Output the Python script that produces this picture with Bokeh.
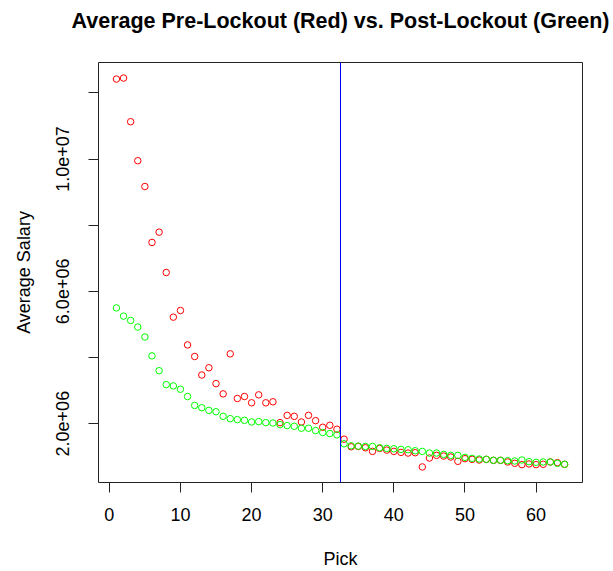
from bokeh.plotting import figure
from bokeh.models import Range1d, FixedTicker, Span, Title
from bokeh.embed import file_html
from bokeh.resources import INLINE

picks = list(range(1, 65))

pre_lockout = [
    12.42e6, 12.45e6, 11.13e6, 9.95e6, 9.17e6, 7.48e6, 7.79e6, 6.57e6, 5.22e6, 5.42e6,
    4.38e6, 4.03e6, 3.47e6, 3.69e6, 3.21e6, 2.90e6, 4.11e6, 2.76e6, 2.82e6, 2.63e6,
    2.87e6, 2.63e6, 2.66e6, 2.03e6, 2.25e6, 2.22e6, 2.05e6, 2.25e6, 2.09e6, 1.89e6,
    1.95e6, 1.83e6, 1.53e6, 1.30e6, 1.31e6, 1.27e6, 1.16e6, 1.25e6, 1.20e6, 1.16e6,
    1.13e6, 1.11e6, 1.12e6, 0.69e6, 0.96e6, 1.04e6, 1.02e6, 0.99e6, 0.86e6, 0.94e6,
    0.92e6, 0.90e6, 0.92e6, 0.89e6, 0.89e6, 0.84e6, 0.80e6, 0.76e6, 0.78e6, 0.76e6,
    0.77e6, 0.84e6, 0.82e6, 0.77e6,
]

post_lockout = [
    5.50e6, 5.25e6, 5.12e6, 4.92e6, 4.62e6, 4.05e6, 3.60e6, 3.18e6, 3.14e6, 3.04e6,
    2.82e6, 2.55e6, 2.48e6, 2.40e6, 2.36e6, 2.22e6, 2.15e6, 2.12e6, 2.10e6, 2.05e6,
    2.06e6, 2.03e6, 2.02e6, 1.97e6, 1.94e6, 1.92e6, 1.86e6, 1.86e6, 1.79e6, 1.73e6,
    1.70e6, 1.66e6, 1.39e6, 1.33e6, 1.32e6, 1.31e6, 1.31e6, 1.27e6, 1.25e6, 1.24e6,
    1.22e6, 1.21e6, 1.18e6, 1.16e6, 1.11e6, 1.11e6, 1.07e6, 1.04e6, 1.04e6, 0.98e6,
    0.95e6, 0.93e6, 0.92e6, 0.89e6, 0.89e6, 0.88e6, 0.87e6, 0.90e6, 0.85e6, 0.83e6,
    0.84e6, 0.84e6, 0.80e6, 0.77e6,
]

lockout_split = 32.5
title_text = "Average Pre-Lockout (Red) vs. Post-Lockout (Green)"

x_ticks = [0, 10, 20, 30, 40, 50, 60]
y_ticks = [2e6, 4e6, 6e6, 8e6, 10e6, 12e6]
y_tick_labels = ["2.0e+06", "", "6.0e+06", "", "1.0e+07", ""]

# R-style 4% range extension
xlo, xhi = min(picks), max(picks)
allv = pre_lockout + post_lockout
ylo, yhi = min(allv), max(allv)
xpad = 0.04 * (xhi - xlo)
ypad = 0.04 * (yhi - ylo)

FONT = "Liberation Sans"

p = figure(width=613, height=571, output_backend="svg", toolbar_location=None,
           x_range=Range1d(xlo - xpad, xhi + xpad),
           y_range=Range1d(ylo - ypad, yhi + ypad),
           min_border_left=98, min_border_right=31,
           min_border_top=62, min_border_bottom=88)

# spacer between frame and title, then the title itself
p.add_layout(Title(text=" ", text_font=FONT, text_font_size="21.5px",
                   standoff=4), "above")
p.add_layout(Title(text=title_text, align="center", text_font=FONT,
                   text_font_size="21.5px", text_font_style="bold",
                   text_color="black", standoff=0), "above")

p.grid.visible = False
p.outline_line_color = "#222222"
p.outline_line_width = 1
p.background_fill_color = "white"
p.border_fill_color = "white"

for ax in (p.xaxis[0], p.yaxis[0]):
    ax.axis_line_color = None
    ax.major_tick_line_color = "#222222"
    ax.major_tick_out = 10
    ax.major_tick_in = 0
    ax.minor_tick_line_color = None
    ax.major_label_text_font = FONT
    ax.major_label_text_font_size = "18px"
    ax.major_label_text_color = "black"
    ax.axis_label_text_font = FONT
    ax.axis_label_text_font_size = "18px"
    ax.axis_label_text_font_style = "normal"
    ax.axis_label_text_color = "black"

p.xaxis.ticker = FixedTicker(ticks=x_ticks)
p.xaxis.axis_label = "Pick"
p.xaxis.major_label_standoff = 15
p.xaxis.axis_label_standoff = 25

p.yaxis.ticker = FixedTicker(ticks=y_ticks)
p.yaxis.major_label_overrides = {t: lab for t, lab in zip(y_ticks, y_tick_labels)}
p.yaxis.major_label_orientation = "vertical"
p.yaxis.axis_label = "Average Salary"
p.yaxis.major_label_standoff = 19
p.yaxis.axis_label_standoff = 20

p.scatter(picks, pre_lockout, marker="circle", size=6.5, fill_color=None,
          line_color="#FF0000", line_width=1)
p.scatter(picks, post_lockout, marker="circle", size=6.5, fill_color=None,
          line_color="#00FF00", line_width=1)

p.add_layout(Span(location=lockout_split, dimension="height",
                  line_color="#0000FF", line_width=1))

open("out.html", "w").write(file_html(p, INLINE))
